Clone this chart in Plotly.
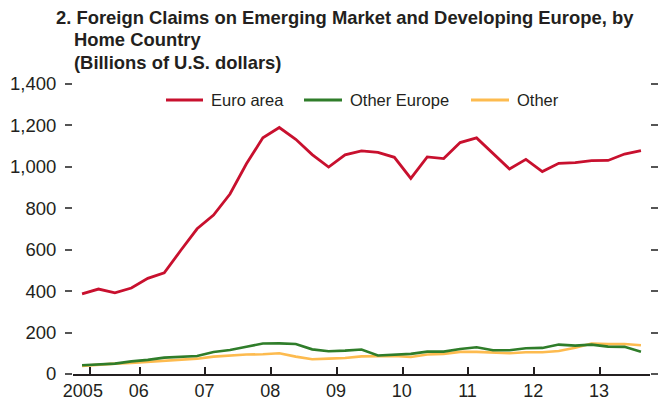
import plotly.graph_objects as go

# Quarterly data, 2005Q1 - 2013Q3 (billions of U.S. dollars)
quarters = [f"{y}Q{q}" for y in range(2005, 2014) for q in range(1, 5)][:35]
euro_area = [387, 410, 392, 415, 462, 488, 596, 701, 767, 869, 1015, 1140, 1190,
             1133, 1059, 999, 1058, 1077, 1070, 1046, 944, 1048, 1040, 1117, 1140,
             1065, 990, 1036, 977, 1017, 1020, 1030, 1031, 1062, 1078]
other_europe = [42, 47, 50, 61, 68, 79, 84, 87, 106, 116, 132, 147, 148, 145, 119,
                110, 113, 118, 89, 92, 97, 108, 108, 121, 129, 115, 115, 124, 126,
                142, 137, 142, 132, 131, 108]
other = [39, 45, 50, 53, 58, 61, 66, 74, 84, 90, 94, 95, 100, 84, 71, 74, 77, 85,
         86, 87, 82, 94, 97, 107, 107, 103, 100, 105, 105, 111, 127, 147, 144, 145, 139]
series_names = ["Euro area", "Other Europe", "Other"]
year_labels = ["2005", "06", "07", "08", "09", "10", "11", "12", "13"]
y_ticks = [0, 200, 400, 600, 800, 1000, 1200, 1400]

idx = list(range(len(quarters)))
# year boundaries (between Q4 and Q1), first tick as in original
tick_pos = [0.5] + [3.5 + 4 * k for k in range(len(year_labels) - 1)]
label_pos = [0.05] + [3.45 + 4 * k for k in range(len(year_labels) - 1)]

FONT = "Liberation Sans, Arial, Helvetica, sans-serif"
TXT = "#231f20"
RED = "#c8102e"
GREEN = "#2f7d2a"
YELLOW = "#fdbb4f"
colors = [RED, GREEN, YELLOW]

L, T, W, H = 73, 84, 577, 290
def px_x(p):
    return (p - L) / W
def px_y(p):
    return (T + H - p) / H

fig = go.Figure()
fig.add_trace(go.Scatter(x=idx, y=other, mode="lines", name=series_names[2],
                         line=dict(color=YELLOW, width=2.6)))
fig.add_trace(go.Scatter(x=idx, y=other_europe, mode="lines", name=series_names[1],
                         line=dict(color=GREEN, width=2.6)))
fig.add_trace(go.Scatter(x=idx, y=euro_area, mode="lines", name=series_names[0],
                         line=dict(color=RED, width=2.8)))
fig.add_trace(go.Scatter(x=[None], y=[None], xaxis="x2", yaxis="y2",
                         showlegend=False, hoverinfo="skip"))

xr = [-0.55, 34.55]
fig.update_layout(
    width=665, height=404,
    margin=dict(l=L, r=665 - L - W, t=T, b=404 - T - H, autoexpand=False),
    paper_bgcolor="white", plot_bgcolor="white",
    font=dict(family=FONT, size=18, color=TXT),
    showlegend=False,
    xaxis=dict(range=xr, tickvals=tick_pos, ticks="inside", ticklen=7,
               tickwidth=1.5, tickcolor=TXT, showticklabels=False,
               showline=True, linecolor=TXT, linewidth=2, showgrid=False,
               zeroline=False),
    xaxis2=dict(range=xr, overlaying="x", anchor="y", side="bottom",
                tickvals=label_pos, ticktext=year_labels, ticks="",
                showline=False, showgrid=False, zeroline=False,
                ticklabelstandoff=4,
                tickfont=dict(size=18, color=TXT)),
    yaxis=dict(range=[0, 1400], tickvals=y_ticks, tickformat=",d",
               ticks="outside", ticklen=7, tickwidth=1.5, tickcolor="#555",
               showline=False, showgrid=False, zeroline=False,
               ticklabelstandoff=5, tickfont=dict(size=18.5, color=TXT)),
    yaxis2=dict(range=[0, 1400], tickvals=y_ticks, overlaying="y", side="right",
                anchor="x", ticks="outside", ticklen=7, tickwidth=1.5,
                tickcolor="#555", showticklabels=False, showline=False,
                showgrid=False, zeroline=False),
)

# Legend (drawn manually to match original spacing)
legend_items = [(166, 203, 209), (304, 342, 348), (471, 509, 515)]
legend_y = 100
for (x0, x1, xt), name, col in zip(legend_items, series_names, colors):
    fig.add_shape(type="line", xref="paper", yref="paper",
                  x0=px_x(x0), x1=px_x(x1), y0=px_y(legend_y), y1=px_y(legend_y),
                  line=dict(color=col, width=2.8))
    fig.add_annotation(text=name, xref="paper", yref="paper",
                       x=px_x(xt), y=px_y(legend_y), xanchor="left",
                       yanchor="middle", showarrow=False,
                       font=dict(family=FONT, size=16.5, color=TXT))

title_lines = [
    ("2. Foreign Claims on Emerging Market and Developing Europe, by", 54, 17),
    ("Home Country", 72, 40),
    ("(Billions of U.S. dollars)", 72, 63),
]
for text, px, py in title_lines:
    fig.add_annotation(text=f"<b>{text}</b>", xref="paper", yref="paper",
                       x=px_x(px), y=px_y(py),
                       xanchor="left", yanchor="middle", showarrow=False,
                       font=dict(family=FONT, size=18.4, color=TXT))

fig.write_html("out.html", config={"displayModeBar": False},
               post_script="document.body.style.margin='0px';")
